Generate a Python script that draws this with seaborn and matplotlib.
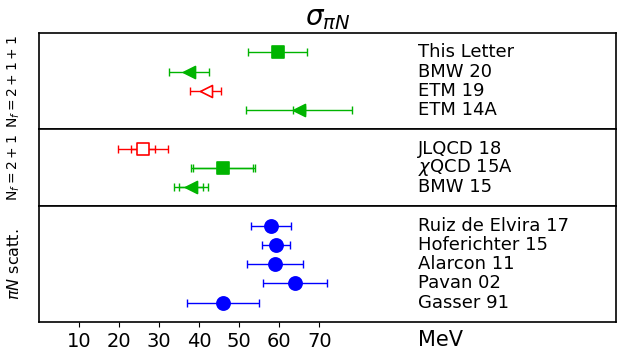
import matplotlib
matplotlib.use("Agg")
import matplotlib.pyplot as plt
import matplotlib.transforms as mtransforms
import seaborn as sns
import pandas as pd

sns.set_style("ticks", {'axes.edgecolor': 'black', 'text.color': 'black',
                        'xtick.color': 'black', 'axes.labelcolor': 'black'})
plt.rcParams['font.family'] = ['DejaVu Sans']

green = '#00b400'

# Nf = 2+1+1
names_4 = ['This Letter', 'BMW 20', 'ETM 19', 'ETM 14A']
vals_4 = [59.6, 37.5, 41.6, 64.9]
err_4 = [7.4, 5.0, 3.8, 13.2]
inner_4 = [None, None, None, 1.5]
marker_4 = ['s', '<', '<', '<']
color_4 = [green, green, 'red', green]
fill_4 = [True, True, False, True]

# Nf = 2+1
names_3 = ['JLQCD 18', r'$\chi$QCD 15A', 'BMW 15']
vals_3 = [26.0, 45.9, 38.0]
err_3 = [6.2, 7.9, 4.2]
inner_3 = [3.0, 7.4, 3.0]
marker_3 = ['s', 's', '<']
color_3 = ['red', green, green]
fill_3 = [False, True, True]

# pi N scattering
names_s = ['Ruiz de Elvira 17', 'Hoferichter 15', 'Alarcon 11', 'Pavan 02', 'Gasser 91']
vals_s = [58.0, 59.1, 59.0, 64.0, 46.0]
err_s = [5.0, 3.5, 7.0, 8.0, 9.0]
inner_s = [None] * 5
marker_s = ['o'] * 5
color_s = ['blue'] * 5
fill_s = [True] * 5

groups = [
    (r'N$_f=2+1+1$', 10, names_4, vals_4, err_4, inner_4, marker_4, color_4, fill_4),
    (r'N$_f=2+1$', 10, names_3, vals_3, err_3, inner_3, marker_3, color_3, fill_3),
    (r'$\pi N$ scatt.', 11.5, names_s, vals_s, err_s, inner_s, marker_s, color_s, fill_s),
]

fig, axes = plt.subplots(3, 1, figsize=(6.24, 3.56), dpi=100, sharex=True,
                         gridspec_kw={'height_ratios': [5, 4, 6], 'hspace': 0})
fig.subplots_adjust(left=0.0625, right=0.987, top=0.907, bottom=0.096)

for ax, (lab, lfs, names, vals, errs, inner, marks, cols, fills) in zip(axes, groups):
    n = len(names)
    ys = [n - 1 - i for i in range(n)]
    for y, v, e, ie, m, c, f in zip(ys, vals, errs, inner, marks, cols, fills):
        ax.errorbar(v, y, xerr=e, fmt='none', ecolor=c, elinewidth=1, capsize=3, capthick=1)
        if ie is not None:
            ax.errorbar(v, y, xerr=ie, fmt='none', ecolor=c, elinewidth=1, capsize=3, capthick=1)
        df = pd.DataFrame({'x': [v], 'y': [y]})
        ms = 90 if m == 'o' else 75
        sns.scatterplot(data=df, x='x', y='y', marker=m, s=ms, ax=ax,
                        color=c if f else 'white', edgecolor=c,
                        linewidth=1.2, zorder=3, legend=False)
    for y, name in zip(ys, names):
        ax.text(94.5, y, name, va='center', ha='left', fontsize=13, color='black')
    ax.set_ylim(-1, n)
    ax.set_yticks([])
    ax.set_ylabel(lab, fontsize=lfs, color='black')
    ax.yaxis.set_label_coords(-0.03, 0.5)
    ax.set_xlabel('')
    ax.tick_params(axis='x', length=0 if ax is not axes[-1] else 3.5)

axes[-1].set_xlim(0, 144)
axes[-1].set_xticks([10, 20, 30, 40, 50, 60, 70])
axes[-1].tick_params(axis='x', labelsize=14, labelcolor='black')
trans = mtransforms.blended_transform_factory(axes[-1].transData, axes[-1].transAxes)
axes[-1].annotate('MeV', xy=(94.5, 0), xycoords=trans, xytext=(0, -6),
                  textcoords='offset points', ha='left', va='top', fontsize=15, color='black')

for ax in axes:
    for s in ax.spines.values():
        s.set_linewidth(1.2)
        s.set_color('black')

axes[0].set_title(r'$\sigma_{\pi N}$', fontsize=20, pad=6, color='black')
fig.savefig('out.png', dpi=100)
